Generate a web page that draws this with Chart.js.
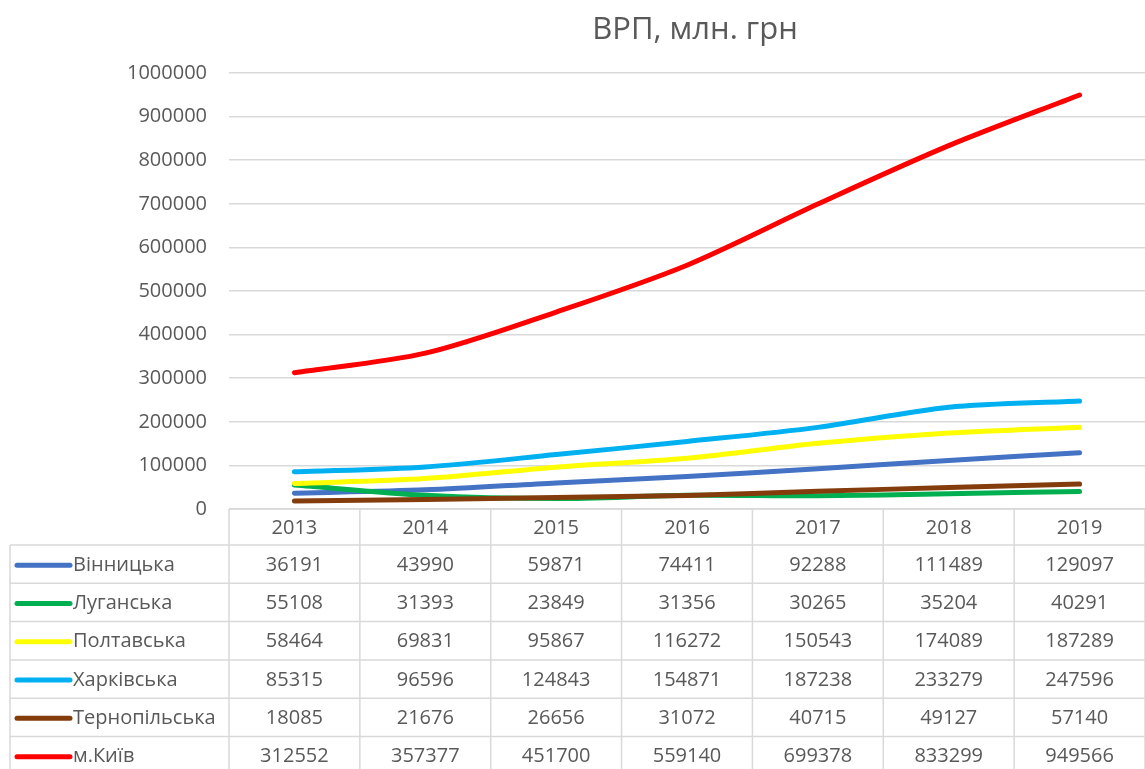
<!DOCTYPE html>
<html>
<head>
<meta charset="utf-8">
<script src="https://cdn.jsdelivr.net/npm/chart.js@4"></script>
<style>
html,body{margin:0;padding:0;background:#fff;}
canvas{display:block;}
</style>
</head>
<body>
<canvas id="c" width="1145" height="769"></canvas>
<script>
const title = 'ВРП, млн. грн';
const years = ['2013','2014','2015','2016','2017','2018','2019'];
const regions = ['Вінницька','Луганська','Полтавська','Харківська','Тернопільська','м.Київ'];
const vinnytska = [36191,43990,59871,74411,92288,111489,129097];
const luhanska = [55108,31393,23849,31356,30265,35204,40291];
const poltavska = [58464,69831,95867,116272,150543,174089,187289];
const kharkivska = [85315,96596,124843,154871,187238,233279,247596];
const ternopilska = [18085,21676,26656,31072,40715,49127,57140];
const kyiv = [312552,357377,451700,559140,699378,833299,949566];
const seriesValues = [vinnytska,luhanska,poltavska,kharkivska,ternopilska,kyiv];
const colors = ['#4472C4','#00B050','#FFFF00','#00B0F0','#843C0C','#FF0000'];

const FONT = '"Open Sans", "Noto Sans", sans-serif';
const TXT = '#595959';
const GRID = '#d9d9d9';

const tablePlugin = {
  id: 'dataTable',
  afterDraw(chart) {
    const ctx = chart.ctx;
    const ca = chart.chartArea;
    const xs = chart.scales.x;
    const W = chart.width, H = chart.height;
    const n = years.length;
    const colW = (ca.right - ca.left) / n;
    const top = ca.bottom;
    const headerH = 36;
    const rowH = 38.3;
    const leftEdge = 10;
    ctx.save();
    // title
    ctx.fillStyle = TXT;
    ctx.font = '31px ' + FONT;
    ctx.textAlign = 'center';
    ctx.textBaseline = 'middle';
    ctx.fillText(title, (ca.left + ca.right) / 2 + 8, 30);

    ctx.strokeStyle = GRID;
    ctx.lineWidth = 1.5;
    ctx.beginPath();
    ctx.moveTo(ca.left, top); ctx.lineTo(W, top);
    for (let r = 0; r <= regions.length; r++) {
      const y = top + headerH + r * rowH;
      ctx.moveTo(leftEdge, y); ctx.lineTo(W, y);
    }
    ctx.moveTo(leftEdge, top + headerH); ctx.lineTo(leftEdge, H);
    for (let i = 0; i <= n; i++) {
      const x = ca.left + i * colW;
      ctx.moveTo(x, top); ctx.lineTo(x, H);
    }
    ctx.stroke();

    ctx.fillStyle = TXT;
    ctx.font = '20px ' + FONT;
    ctx.textAlign = 'center';
    ctx.textBaseline = 'middle';
    years.forEach((y, i) => {
      ctx.fillText(y, xs.getPixelForValue(i), top + headerH / 2 + 1);
    });
    regions.forEach((name, r) => {
      const cy = top + headerH + r * rowH + rowH / 2 + 1;
      ctx.strokeStyle = colors[r];
      ctx.lineWidth = 5;
      ctx.lineCap = 'round';
      ctx.beginPath();
      ctx.moveTo(17, cy); ctx.lineTo(70, cy);
      ctx.stroke();
      ctx.fillStyle = TXT;
      ctx.textAlign = 'left';
      ctx.fillText(name, 73, cy);
      ctx.textAlign = 'center';
      seriesValues[r].forEach((v, i) => {
        ctx.fillText(String(v), xs.getPixelForValue(i), cy);
      });
    });
    ctx.restore();
  }
};

new Chart(document.getElementById('c'), {
  type: 'line',
  data: {
    labels: years,
    datasets: regions.map((name, i) => ({
      label: name,
      data: seriesValues[i],
      borderColor: colors[i],
      backgroundColor: colors[i],
      borderWidth: 5,
      pointRadius: 0,
      pointHoverRadius: 0,
      tension: 0.3,
      borderCapStyle: 'round',
      borderJoinStyle: 'round',
      fill: false,
      order: regions.length - i
    }))
  },
  options: {
    responsive: false,
    devicePixelRatio: 1,
    animation: false,
    layout: { padding: { top: 73, left: 0, right: 0, bottom: 0 } },
    plugins: {
      legend: { display: false },
      title: { display: false },
      tooltip: { enabled: false }
    },
    scales: {
      x: {
        offset: true,
        grid: { display: false },
        border: { display: false },
        ticks: { display: false },
        afterFit: s => { s.height = 260; }
      },
      y: {
        min: 0,
        max: 1000000,
        grid: { color: GRID, lineWidth: 1.5, drawTicks: false },
        border: { display: false },
        ticks: {
          stepSize: 100000,
          padding: 22,
          color: TXT,
          font: { family: FONT, size: 20 },
          callback: v => String(v)
        },
        afterFit: s => { s.width = 229; }
      }
    }
  },
  plugins: [tablePlugin]
});
</script>
</body>
</html>
